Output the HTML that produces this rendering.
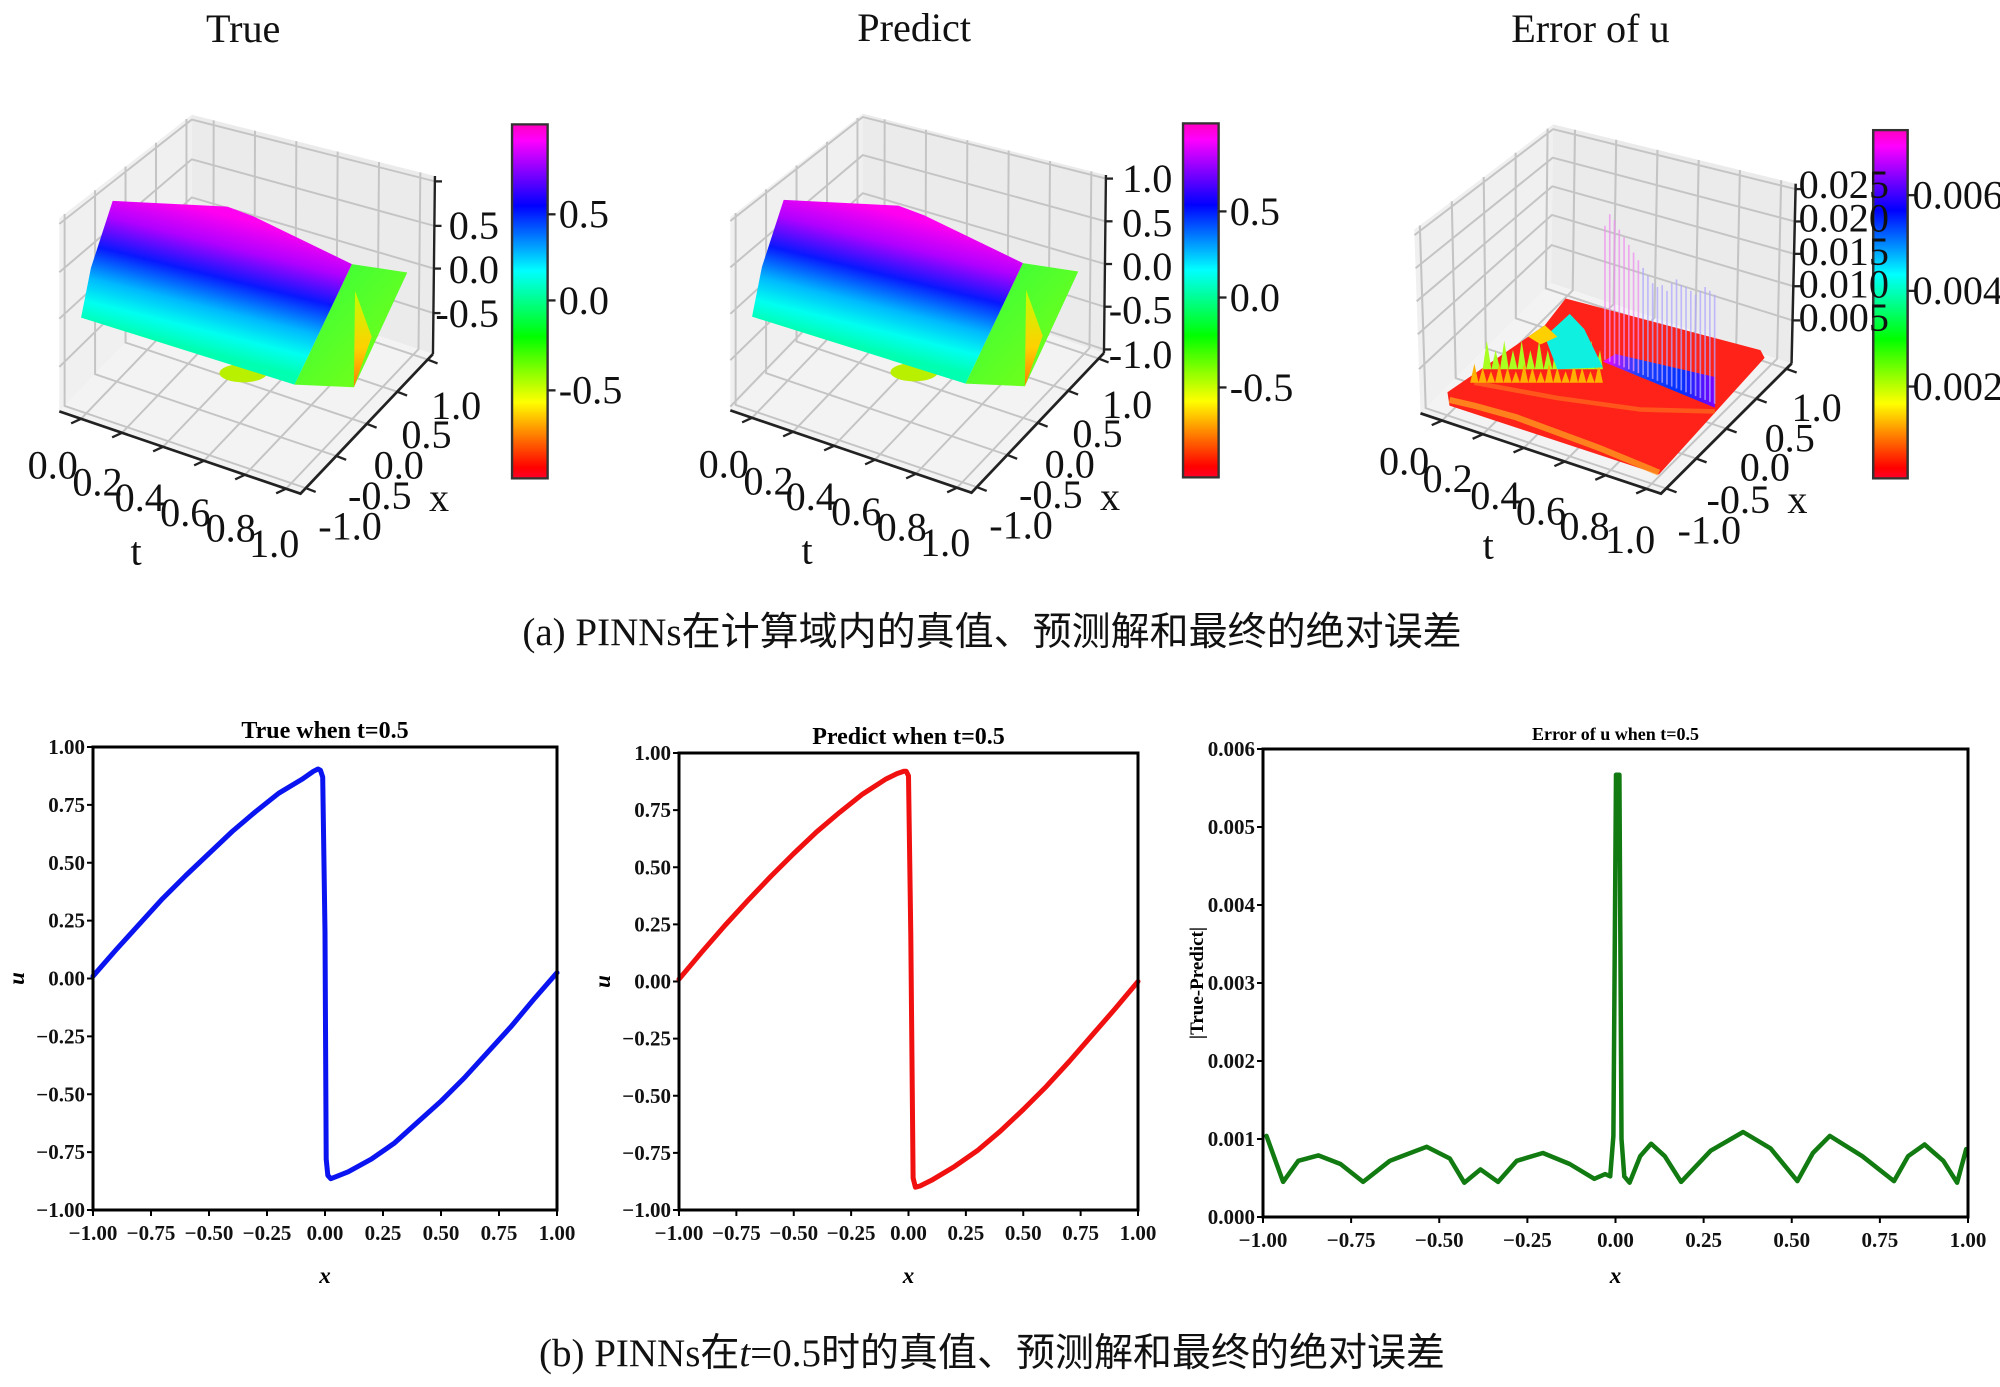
<!DOCTYPE html>
<html><head><meta charset="utf-8">
<style>
html,body{margin:0;padding:0;background:#fff;}
svg{display:block;}
.cap{font-family:"Liberation Serif","Noto Sans CJK SC",sans-serif;font-size:39px;fill:#111;}
.tk{font-family:"Liberation Serif",serif;font-weight:bold;font-size:21px;fill:#111;}
.t3{font-family:"Liberation Serif",serif;font-size:105px;fill:#111;}
</style></head>
<body>
<svg id="fig" xmlns="http://www.w3.org/2000/svg" width="2000" height="1387" viewBox="0 0 2000 1387">
<defs>
<linearGradient id="rainbow" x1="0" y1="1" x2="0" y2="0">
<stop offset="0" stop-color="#ff0029"/><stop offset="0.03" stop-color="#ff0000"/>
<stop offset="0.215" stop-color="#ffff00"/><stop offset="0.4" stop-color="#00ff00"/>
<stop offset="0.586" stop-color="#00ffff"/><stop offset="0.77" stop-color="#0000ff"/>
<stop offset="0.954" stop-color="#ff00ff"/><stop offset="1" stop-color="#ff00c0"/>
</linearGradient>
<linearGradient id="surf" gradientUnits="userSpaceOnUse" x1="450" y1="530" x2="360" y2="880">
<stop offset="0" stop-color="#ff00f0"/><stop offset="0.22" stop-color="#b000ff"/>
<stop offset="0.45" stop-color="#0818ff"/><stop offset="0.68" stop-color="#00b8ff"/>
<stop offset="0.85" stop-color="#00fff0"/><stop offset="1" stop-color="#00ffb0"/>
</linearGradient>
<linearGradient id="greenf" x1="0" y1="0" x2="1" y2="1">
<stop offset="0" stop-color="#30ff40"/><stop offset="1" stop-color="#80ff10"/>
</linearGradient>
<linearGradient id="yel" x1="0" y1="0" x2="0" y2="1">
<stop offset="0" stop-color="#c0ff00"/><stop offset="0.6" stop-color="#ffd000"/><stop offset="1" stop-color="#ff8000"/>
</linearGradient>
<linearGradient id="band" x1="0" y1="0" x2="1" y2="0">
<stop offset="0" stop-color="#ff00ff"/><stop offset="0.3" stop-color="#2040ff"/><stop offset="0.7" stop-color="#0030ff"/><stop offset="1" stop-color="#8000ff"/>
</linearGradient>
</defs>
<g id="top"></g>
<g id="bottom"></g>
<text class="cap" x="992" y="645" text-anchor="middle">(a) PINNs在计算域内的真值、预测解和最终的绝对误差</text>
<text class="cap" x="992" y="1366" text-anchor="middle">(b) PINNs在<tspan font-style="italic">t</tspan>=0.5时的真值、预测解和最终的绝对误差</text>
</svg>
<script>
// ---------- Data for bottom line charts ----------
const trueX = [-1,-0.9,-0.8,-0.7,-0.6,-0.5,-0.4,-0.3,-0.2,-0.1,-0.05,-0.03,-0.02,-0.01,0.0,0.005,0.012,0.025,0.05,0.1,0.2,0.3,0.4,0.5,0.6,0.7,0.8,0.9,1.0];
const trueU = [0.01,0.125,0.235,0.345,0.445,0.54,0.635,0.72,0.80,0.86,0.895,0.905,0.90,0.87,0.2,-0.78,-0.85,-0.865,-0.855,-0.835,-0.78,-0.71,-0.62,-0.53,-0.43,-0.32,-0.21,-0.09,0.025];
const predX = [-1,-0.9,-0.8,-0.7,-0.6,-0.5,-0.4,-0.3,-0.2,-0.1,-0.05,-0.02,-0.01,0.0,0.01,0.02,0.03,0.05,0.1,0.2,0.3,0.4,0.5,0.6,0.7,0.8,0.9,1.0];
const predU = [0.01,0.13,0.245,0.355,0.46,0.56,0.655,0.74,0.82,0.885,0.91,0.92,0.92,0.9,0.2,-0.86,-0.9,-0.895,-0.87,-0.81,-0.74,-0.655,-0.56,-0.46,-0.35,-0.235,-0.12,0.0];
const errX = [-0.99,-0.943,-0.9,-0.843,-0.78,-0.716,-0.64,-0.536,-0.47,-0.429,-0.383,-0.333,-0.28,-0.206,-0.13,-0.06,-0.029,-0.015,-0.006,0.0015,0.011,0.017,0.025,0.04,0.07,0.101,0.14,0.186,0.27,0.362,0.44,0.516,0.56,0.608,0.7,0.79,0.83,0.877,0.93,0.969,0.995];
const errY = [0.00104,0.00045,0.00072,0.00079,0.00068,0.00045,0.00072,0.0009,0.00075,0.00044,0.00061,0.00045,0.00072,0.00082,0.00068,0.00049,0.00055,0.00052,0.00104,0.00567,0.00567,0.001,0.00052,0.00044,0.00078,0.00094,0.00078,0.00045,0.00085,0.00109,0.00088,0.00046,0.00082,0.00104,0.00078,0.00046,0.00078,0.00093,0.00072,0.00044,0.00087];
const uTicks = [-1,-0.75,-0.5,-0.25,0,0.25,0.5,0.75,1];
const xTicks = [-1,-0.75,-0.5,-0.25,0,0.25,0.5,0.75,1];
const eTicks = [0,0.001,0.002,0.003,0.004,0.005,0.006];

const NS='http://www.w3.org/2000/svg';
function mk(parent,tag,attrs,txt){const e=document.createElementNS(NS,tag);for(const k in attrs)e.setAttribute(k,attrs[k]);if(txt!==undefined)e.textContent=txt;parent.appendChild(e);return e;}
function fmt(v,d){const s=Math.abs(v).toFixed(d);return (v<0?'\u2212':'')+s;}

function lineChart(o){
  const g=mk(document.getElementById('bottom'),'g',{});
  
  
  const sx=v=>o.L+(v-o.xmin)/(o.xmax-o.xmin)*(o.R-o.L);
  const sy=v=>o.B-(v-o.ymin)/(o.ymax-o.ymin)*(o.B-o.T);
  o.xt.forEach(v=>{mk(g,'line',{x1:sx(v),x2:sx(v),y1:o.B,y2:o.B+6,stroke:'#000','stroke-width':2});
    const t=mk(g,'text',{class:'tk',x:sx(v),y:o.B+30,'text-anchor':'middle'},fmt(v,2));
    });
  o.yt.forEach(v=>{mk(g,'line',{x1:o.L-6,x2:o.L,y1:sy(v),y2:sy(v),stroke:'#000','stroke-width':2});
    const t=mk(g,'text',{class:'tk',x:o.L-8,y:sy(v)+7,'text-anchor':'end'},fmt(v,o.yd));
    });
  const d=o.xs.map((x,i)=>(i?'L':'M')+sx(x).toFixed(1)+','+sy(o.ys[i]).toFixed(1)).join('');
  const p=mk(g,'path',{d:d,fill:'none',stroke:o.color,'stroke-width':o.lw,'stroke-linejoin':'round','stroke-linecap':'round'});
  
  
  const fr=mk(g,'rect',{x:o.L,y:o.T,width:o.R-o.L,height:o.B-o.T,fill:'none',stroke:'#000','stroke-width':3});
  
  const ti=mk(g,'text',{x:(o.L+o.R)/2,y:o.T-9,'text-anchor':'middle','font-family':'Liberation Serif, serif','font-weight':'bold','font-size':o.tfs},o.title);
  
  const xl=mk(g,'text',{x:(o.L+o.R)/2,y:1283,'text-anchor':'middle','font-family':'Liberation Serif, serif','font-weight':'bold','font-style':'italic','font-size':23},'x');
  
  const yl=mk(g,'text',{x:o.ylx,y:(o.T+o.B)/2,'text-anchor':'middle','font-family':'Liberation Serif, serif','font-weight':'bold','font-style':o.yital?'italic':'normal','font-size':o.ylfs,transform:`rotate(-90 ${o.ylx} ${(o.T+o.B)/2})`},o.ylabel);
  
}
lineChart({name:'true-line-chart',L:93,R:557,T:747,B:1210,xmin:-1,xmax:1,ymin:-1,ymax:1,xt:xTicks,yt:uTicks,yd:2,xs:trueX,ys:trueU,color:'#0a14f0',lw:5,title:'True when t=0.5',tfs:24,ylabel:'u',ylx:24,yital:true,ylfs:23});
lineChart({name:'predict-line-chart',L:679,R:1138,T:753,B:1210,xmin:-1,xmax:1,ymin:-1,ymax:1,xt:xTicks,yt:uTicks,yd:2,xs:predX,ys:predU,color:'#f01010',lw:5,title:'Predict when t=0.5',tfs:24,ylabel:'u',ylx:610,yital:true,ylfs:23});
lineChart({name:'error-line-chart',L:1263,R:1968,T:749,B:1217,xmin:-1,xmax:1,ymin:0,ymax:0.006,xt:xTicks,yt:eTicks,yd:3,xs:errX,ys:errY,color:'#117a11',lw:4.5,title:'Error of u when t=0.5',tfs:18,ylabel:'|True-Predict|',ylx:1203,yital:false,ylfs:19});

// ---------- 3D panels (drawn in local zoom coordinates) ----------
function lerp(a,b,t){return [a[0]+(b[0]-a[0])*t,a[1]+(b[1]-a[1])*t];}
function txt(g,k,x,y,s,anchor,extra){
  const a=Object.assign({class:'t3',x:x/k,y:y,'text-anchor':anchor||'start',transform:`scale(${k},1)`},extra||{});
  return mk(g,'text',a,s);
}
function panel(o){
  const g=mk(document.getElementById('top'),'g',{transform:`translate(${o.ox},${o.oy}) scale(${o.sx},${o.sy})`});
  
  
  const k=o.sy/o.sx;
  const A=o.A,B=o.B,C=o.C,D=o.D,At=o.At,Ct=o.Ct,Dt=o.Dt;
  const pts=a=>a.map(p=>p.join(',')).join(' ');
  mk(g,'polygon',{points:pts([A,D,Dt,At]),fill:'#f0f0f0'});
  mk(g,'polygon',{points:pts([D,C,Ct,Dt]),fill:'#ebebeb'});
  mk(g,'polygon',{points:pts([A,B,C,D]),fill:'#f3f3f3'});
  const gs={stroke:'#c4c4c4','stroke-width':5,fill:'none'};
  const tf=[0.09,0.26,0.43,0.6,0.77,0.94], xf=[0.04,0.27,0.5,0.73,0.96];
  tf.forEach(f=>{const p=lerp(A,B,f),q=lerp(D,C,f),r=lerp(Dt,Ct,f);
    mk(g,'polyline',Object.assign({points:pts([p,q,r])},gs));});
  xf.forEach(f=>{const p=lerp(B,C,f),q=lerp(A,D,f),r=lerp(At,Dt,f);
    mk(g,'polyline',Object.assign({points:pts([p,q,r])},gs));});
  o.zf.forEach(f=>{const a=lerp(A,At,f),d=lerp(D,Dt,f),c=lerp(C,Ct,f);
    mk(g,'polyline',Object.assign({points:pts([a,d,c])},gs));});
  mk(g,'polyline',{points:pts([A,B,C]),fill:'none',stroke:'#222','stroke-width':7});
  mk(g,'line',{x1:C[0],y1:C[1],x2:Ct[0],y2:Ct[1],stroke:'#222','stroke-width':6});
  tf.forEach(f=>{const p=lerp(A,B,f);mk(g,'line',{x1:p[0],y1:p[1],x2:p[0]-25,y2:p[1]+12,stroke:'#222','stroke-width':6});});
  xf.forEach(f=>{const p=lerp(B,C,f);mk(g,'line',{x1:p[0],y1:p[1],x2:p[0]+25,y2:p[1]+10,stroke:'#222','stroke-width':6});});
  o.zf.forEach(f=>{const p=lerp(C,Ct,f);mk(g,'line',{x1:p[0],y1:p[1],x2:p[0]+18,y2:p[1],stroke:'#222','stroke-width':6});});
  o.surface(g);
  const cb=mk(g,'rect',{x:o.cb[0],y:o.cb[1],width:o.cb[2],height:o.cb[3],fill:'url(#rainbow)',stroke:'#333','stroke-width':6});
  
  o.cbl.forEach(l=>{mk(g,'line',{x1:o.cb[0]+o.cb[2],x2:o.cb[0]+o.cb[2]+20,y1:l[1],y2:l[1],stroke:'#222','stroke-width':6});
    const t=txt(g,k,o.cb[0]+o.cb[2]+(o.cbgap||28),l[1]+35,l[0],'start',o.cbfs?{'font-size':o.cbfs}:{});
    });
  o.labels.forEach(l=>{const t=txt(g,k,l[1],l[2],l[0],l[3]);
    });
  const ti=txt(g,k,o.title[1],o.title[2],o.title[0],'middle',{'font-size':100});
  
}
function burgSurface(g){
  mk(g,'ellipse',{cx:615,cy:975,rx:60,ry:24,fill:'#b8f000'});
  mk(g,'polygon',{points:'745,1005 890,690 1030,712 895,1012',fill:'url(#greenf)'});
  mk(g,'polygon',{points:'895,1012 898,760 940,880',fill:'url(#yel)'});
  mk(g,'polygon',{points:'285,525 575,540 640,565 890,690 745,1005 205,830 230,700',fill:'url(#surf)'});
}
const tLab=[['0.0',70,1250],['0.2',183,1295],['0.4',290,1335],['0.6',405,1375],['0.8',520,1415],['1.0',630,1455],['t',330,1475],
 ['1.0',1090,1095],['0.5',1015,1170],['0.0',945,1250],['-0.5',880,1330],['-1.0',805,1410],['x',1085,1335]];
const geo={A:[150,1075],B:[760,1290],C:[1095,925],D:[485,715],At:[150,570],Ct:[1100,460],Dt:[485,300]};
panel(Object.assign({name:'true-3d-panel',ox:0,oy:0,sx:0.3954,sy:0.3827,zf:[0.23,0.48,0.72,0.97],surface:burgSurface,
  cb:[1295,325,90,925],cbl:[['0.5',560],['0.0',785],['-0.5',1020]],
  labels:tLab.concat([['0.5',1262,625,'end'],['0.0',1262,740,'end'],['-0.5',1262,855,'end']]),title:['True',615,110]},geo));
panel(Object.assign({name:'predict-3d-panel',ox:671,oy:-1,sx:0.3954,sy:0.3827,zf:[0.02,0.26,0.5,0.74,0.98],surface:burgSurface,
  cb:[1295,325,90,925],cbl:[['0.5',555],['0.0',780],['-0.5',1015]],
  labels:tLab.concat([['1.0',1268,504,'end'],['0.5',1268,621,'end'],['0.0',1268,734,'end'],['-0.5',1268,848,'end'],['-1.0',1268,964,'end']]),title:['Predict',615,110]},geo));
function errSurface(g){
  mk(g,'polygon',{points:'235,1025 240,1060 745,1240 1000,935 990,915 520,780 470,850',fill:'#ff2218'});
  mk(g,'polyline',{points:'240,1045 300,1060 400,1090 500,1130 600,1170 745,1235',fill:'none',stroke:'#ff9a20','stroke-width':16,opacity:0.8});
  mk(g,'polyline',{points:'300,1000 500,1040 700,1070 880,1075',fill:'none',stroke:'#ff7a20','stroke-width':12,opacity:0.6});
  let z='';for(let i=0;i<14;i++){const x=320+i*21;z+=`${x},965 ${x+10},${890+(i%2)*25} `;}
  mk(g,'polygon',{points:z+'610,965',fill:'#a8ff20'});
  let z2='';for(let i=0;i<16;i++){const x=290+i*20;z2+=`${x},1000 ${x+10},${950+(i%3)*10} `;}
  mk(g,'polygon',{points:z2+'610,1000',fill:'#ffb000'});
  mk(g,'polygon',{points:'470,880 530,820 565,860 610,960 500,965',fill:'#10f0e0'});
  mk(g,'polygon',{points:'430,880 470,850 500,880 460,900',fill:'#ffd000'});
  mk(g,'polygon',{points:'610,945 700,985 880,1065 880,985 640,925',fill:'url(#band)'});
  for(let i=0;i<24;i++){const x=615+i*11.5;const top=[590,560,575,600,620,640,660,680,700,720,740,750,745,760,740,730,745,750,760,770,760,750,760,770][i];
    mk(g,'line',{x1:x,y1:top,x2:x,y2:940+i*5,stroke:i<8?'#f090f0':'#b0a8ff','stroke-width':4,opacity:0.75});}
}
panel({name:'error-3d-panel',ox:1350,oy:0,sx:0.4146,sy:0.3827,A:[170,1080],B:[750,1290],C:[1065,950],D:[485,740],At:[155,600],Ct:[1075,480],Dt:[490,325],
  zf:[0.24,0.43,0.61,0.79,0.97],surface:errSurface,cb:[1262,340,83,910],cbl:[['0.006',510],['0.004',760],['0.002',1010]],cbfs:92,cbgap:12,
  labels:[['0.0',70,1240],['0.2',175,1285],['0.4',290,1330],['0.6',400,1370],['0.8',505,1410],['1.0',615,1445],['t',320,1460],
   ['1.0',1065,1100],['0.5',1000,1180],['0.0',940,1255],['-0.5',860,1340],['-1.0',790,1420],['x',1055,1340],
   ['0.025',1082,517],['0.020',1082,605],['0.015',1082,693],['0.010',1082,778],['0.005',1082,865]],title:['Error of u',580,110]});
</script>
</body></html>
